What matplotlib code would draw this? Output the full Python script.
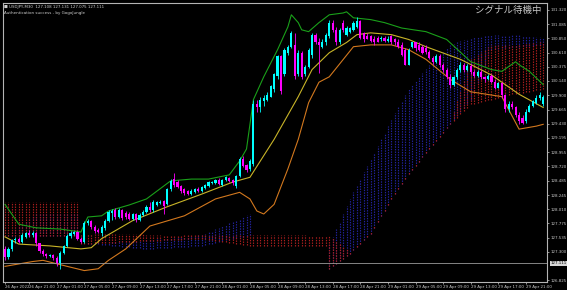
import matplotlib
matplotlib.use("Agg")
import matplotlib.pyplot as plt
import numpy as np

# ---------------- data ----------------
opens = [127.35,127.22,127.35,127.49,127.52,127.47,127.55,127.62,127.58,127.62,
         127.44,127.32,127.27,127.24,127.25,127.20,127.12,127.29,127.40,127.57,
         127.60,127.63,127.52,127.47,127.78,127.82,127.71,127.67,127.62,127.70,
         127.82,127.94,127.99,127.88,127.99,127.94,127.93,127.85,127.93,127.83,
         127.91,127.96,128.04,127.99,128.08,128.11,128.14,128.09,128.34,128.51,
         128.46,128.39,128.34,128.31,128.26,128.29,128.34,128.31,128.36,128.39,
         128.44,128.44,128.49,128.41,128.49,128.53,128.49,128.39,128.56,128.84,
         128.74,128.68,128.76,129.75,129.70,129.80,129.83,129.88,130.00,130.22,
         130.55,130.25,130.61,130.71,130.74,130.25,130.61,130.25,130.38,130.58,
         130.91,130.79,130.71,130.78,130.88,131.11,130.99,130.78,131.11,130.91,
         130.96,130.99,131.04,131.13,130.93,130.89,130.88,130.84,130.86,130.83,
         130.86,130.81,130.88,130.83,130.79,130.74,130.66,130.41,130.71,130.78,
         130.74,130.71,130.69,130.63,130.53,130.46,130.56,130.41,130.33,130.20,
         130.08,130.20,130.33,130.41,130.33,130.39,130.29,130.23,130.29,130.20,
         130.17,130.23,130.13,130.03,130.10,129.90,129.67,129.76,129.70,129.58,
         129.53,129.47,129.63,129.72,129.78,129.85,129.76]
highs = [127.40,127.38,127.52,127.55,127.55,127.62,127.63,127.67,127.65,127.63,
         127.45,127.35,127.29,127.27,127.27,127.24,127.32,127.42,127.60,127.65,
         127.65,127.65,127.55,127.82,127.85,127.83,127.75,127.70,127.75,127.85,
         127.99,128.01,128.03,128.03,128.01,127.98,127.96,127.94,127.94,127.94,
         127.99,128.08,128.13,128.16,128.14,128.16,128.16,128.36,128.51,128.61,
         128.49,128.41,128.36,128.33,128.34,128.36,128.38,128.39,128.43,128.48,
         128.48,128.51,128.53,128.51,128.56,128.54,128.51,128.58,128.87,128.89,
         128.76,128.84,129.83,129.83,129.87,129.90,129.95,130.08,130.28,130.58,
         130.58,130.69,130.74,130.97,130.94,130.66,130.64,130.41,130.69,130.94,
         130.94,130.86,130.83,130.94,131.16,131.16,131.04,131.02,131.16,131.06,
         131.04,131.14,131.21,131.16,130.96,130.93,130.91,130.88,130.89,130.88,
         130.89,130.88,130.91,130.86,130.83,130.78,130.69,130.68,130.79,130.79,
         130.78,130.74,130.73,130.66,130.56,130.59,130.59,130.44,130.36,130.25,
         130.23,130.36,130.46,130.44,130.43,130.43,130.33,130.33,130.33,130.23,
         130.26,130.26,130.17,130.13,130.13,129.93,129.80,129.80,129.73,129.62,
         129.57,129.67,129.76,129.83,129.90,129.95,129.90]
lows = [127.16,127.19,127.32,127.44,127.44,127.44,127.53,127.55,127.55,127.40,
        127.29,127.24,127.20,127.22,127.16,127.06,127.02,127.27,127.38,127.53,
        127.58,127.49,127.44,127.45,127.75,127.68,127.62,127.62,127.57,127.67,
        127.80,127.83,127.85,127.86,127.83,127.85,127.83,127.83,127.80,127.82,
        127.89,127.94,127.96,127.96,128.06,128.09,127.93,128.08,128.31,128.38,
        128.36,128.28,128.24,128.24,128.24,128.28,128.29,128.29,128.34,128.38,
        128.43,128.43,128.41,128.39,128.48,128.46,128.41,128.36,128.54,128.71,
        128.63,128.64,128.73,129.62,129.63,129.73,129.80,129.87,129.95,130.18,
        129.93,130.22,130.58,130.69,130.17,130.22,130.17,130.22,130.36,130.53,
        130.76,130.28,130.68,130.74,130.86,130.96,130.74,130.76,130.96,130.89,
        130.94,130.97,131.02,130.83,130.79,130.83,130.78,130.74,130.78,130.81,
        130.78,130.79,130.76,130.74,130.69,130.56,130.40,130.40,130.69,130.64,
        130.64,130.59,130.59,130.50,130.43,130.44,130.38,130.29,130.17,130.03,
        130.05,130.17,130.29,130.29,130.31,130.26,130.20,130.21,130.17,130.13,
        130.15,130.10,130.00,130.02,129.86,129.63,129.63,129.67,129.55,129.42,
        129.42,129.44,129.62,129.70,129.76,129.83,129.73]
closes = [127.22,127.35,127.49,127.52,127.47,127.58,127.62,127.58,127.62,127.44,
          127.32,127.27,127.24,127.25,127.20,127.12,127.29,127.40,127.57,127.62,
          127.63,127.52,127.47,127.78,127.82,127.71,127.65,127.63,127.71,127.82,
          127.96,127.98,127.88,127.99,127.86,127.88,127.85,127.93,127.83,127.91,
          127.96,128.04,127.99,128.13,128.13,128.13,128.06,128.34,128.48,128.41,
          128.38,128.31,128.28,128.26,128.31,128.34,128.31,128.38,128.41,128.46,
          128.46,128.49,128.43,128.49,128.54,128.48,128.44,128.56,128.84,128.73,
          128.66,128.81,129.75,129.70,129.82,129.85,129.90,130.05,130.25,130.55,
          129.97,130.66,130.71,130.94,130.22,130.61,130.20,130.38,130.66,130.91,
          130.79,130.74,130.79,130.91,131.11,130.99,130.78,130.99,130.99,131.02,
          131.02,131.11,131.14,130.86,130.83,130.84,130.81,130.78,130.79,130.86,
          130.81,130.84,130.79,130.78,130.71,130.58,130.41,130.66,130.78,130.68,
          130.66,130.61,130.63,130.53,130.46,130.56,130.41,130.33,130.20,130.08,
          130.20,130.33,130.41,130.33,130.39,130.29,130.23,130.29,130.20,130.17,
          130.23,130.13,130.03,130.10,129.90,129.67,129.76,129.70,129.58,129.47,
          129.45,129.63,129.73,129.80,129.86,129.90,129.88]

upper_idx = [0,4,9,16,22,24,28,30,36,41,48,54,59,65,68,70,72,75,79,82,83,85,86,88,91,94,
             98,99,101,106,110,115,122,128,135,141,144,148,149,152,156]
upper_val = [128.09,127.76,127.70,127.68,127.63,127.88,127.90,127.98,128.08,128.18,128.48,
             128.51,128.51,128.58,128.81,129.01,129.83,130.21,130.66,131.04,131.24,131.11,
             130.99,130.96,131.11,131.24,131.27,131.29,131.19,131.16,131.11,131.02,130.96,
             130.83,130.46,130.33,130.30,130.46,130.41,130.30,130.08]
mid_idx = [0,4,13,22,25,28,37,47,57,66,71,78,85,89,94,99,102,106,112,117,122,132,141,149,156]
mid_val = [127.55,127.43,127.40,127.35,127.37,127.52,127.82,128.05,128.26,128.46,128.54,
           129.17,129.88,130.33,130.61,130.78,130.91,130.94,130.91,130.83,130.71,130.50,
           130.24,129.92,129.70]
lower_idx = [0,8,11,18,23,27,30,35,42,52,61,68,71,73,75,78,82,85,88,91,94,101,106,112,
             117,122,129,135,144,149,154,156]
lower_val = [127.06,127.14,127.16,127.06,126.99,127.02,127.16,127.35,127.73,127.90,128.18,
             128.29,128.18,127.98,127.93,128.09,128.68,129.17,129.78,130.12,130.21,130.71,
             130.74,130.74,130.66,130.50,130.17,129.96,129.88,129.34,129.39,129.42]

# cloud edges (blue cloud and red cloud)
blue_idx = [0,9,21,22,41,57,71,72,93,94,100,106,112,117,123,129,135,141,147,156]
blue_top = [127.57,127.93,127.93,127.45,127.49,127.58,127.93,127.58,127.58,127.43,128.18,
            128.84,129.50,130.00,130.41,130.74,130.86,130.91,130.91,130.86]
blue_bot = [127.57,127.57,127.57,127.45,127.35,127.40,127.58,127.58,127.58,127.02,127.27,
            127.60,128.18,128.59,129.01,129.42,129.83,130.66,130.70,130.74]
red_idx = [0,21,22,57,71,93,94,100,106,112,117,123,129,135,141,147,156]
red_top = [128.13,128.13,127.60,127.58,127.58,127.57,127.57,127.30,127.63,128.21,128.62,
           129.04,129.45,130.50,130.74,130.74,130.79]
red_bot = [127.57,127.57,127.43,127.52,127.40,127.40,127.02,127.27,127.60,128.18,128.59,
           129.01,129.42,129.75,129.83,129.92,130.00]

time_idx = [0,7,15,23,31,39,47,55,63,71,79,87,95,103,111,119,127,135,143,151]
time_labels = ["26 Apr 2022","26 Apr 21:00","27 Apr 01:00","27 Apr 05:00","27 Apr 09:00",
               "27 Apr 13:00","27 Apr 17:00","27 Apr 21:00","28 Apr 01:00","28 Apr 05:00",
               "28 Apr 09:00","28 Apr 13:00","28 Apr 17:00","28 Apr 21:00","29 Apr 01:00",
               "29 Apr 05:00","29 Apr 09:00","29 Apr 13:00","29 Apr 17:00","29 Apr 21:00"]
price_ticks = [131.320,131.085,130.850,130.610,130.375,130.140,129.900,129.665,129.430,
               129.195,128.955,128.720,128.485,128.245,128.010,127.775,127.535,127.300,126.825]
last_price = 127.111
title_text = "USDJPY,M30  127.108 127.131 127.075 127.111"
auth_text = "Authentication success - by GogoJungle"
signal_text = "シグナル待機中"

# ---------------- figure ----------------
W, H = 567, 290
YMIN, YMAX = 126.80, 131.436
fig = plt.figure(figsize=(W/100, H/100), dpi=100, facecolor="black")
ax = fig.add_axes([3/W, (H-282)/H, 544/W, 279/H], facecolor="black")
n = len(closes)
x = np.arange(n)

# clouds drawn as dotted histograms
def dotted_cloud(idx, top, bot, color):
    t = np.interp(x, idx, top)
    b = np.interp(x, idx, bot)
    m = np.abs(t - b) > 0.005
    ax.vlines(x[m], np.minimum(t, b)[m], np.maximum(t, b)[m], colors=color,
              linestyles=(0, (1.2, 1.0)), linewidth=0.85, zorder=1)

dotted_cloud(blue_idx, blue_top, blue_bot, "#22229a")
dotted_cloud(red_idx, red_top, red_bot, "#a81e1e")

# bands
ax.plot(upper_idx, upper_val, color="#1aa01a", lw=0.8, zorder=2)
ax.plot(mid_idx, mid_val, color="#c8b428", lw=0.8, zorder=2)
ax.plot(lower_idx, lower_val, color="#d2781e", lw=0.8, zorder=2)

# current price line
ax.axhline(last_price, color="#9a9a9a", lw=0.6, zorder=2)

# candles
o = np.array(opens); c = np.array(closes); h = np.array(highs); l = np.array(lows)
cols = np.where(c >= o, "#00ffff", "#ff00ff")
ax.vlines(x, l, h, colors=cols, lw=0.6, zorder=3)
bottoms = np.minimum(o, c)
heights = np.maximum(np.abs(c - o), 0.012)
ax.bar(x, heights, bottom=bottoms, width=0.62, color=cols, linewidth=0, zorder=4)

ax.set_xlim(-0.58, 157.1)
ax.set_ylim(YMIN, YMAX)

# axes styling
for s in ax.spines.values():
    s.set_color("#b4b4b4"); s.set_linewidth(0.8)
ax.yaxis.tick_right()
ax.set_yticks(price_ticks)
ax.set_yticklabels([f"{v:.3f}" for v in price_ticks])
ax.set_xticks(time_idx)
ax.set_xticklabels(time_labels, ha="left")
ax.tick_params(axis="both", colors="#c8c8c8", labelsize=2.9, length=1.5, width=0.5, pad=0.8)

# last price box
ax.text(1.006, (last_price - YMIN) / (YMAX - YMIN), f"{last_price:.3f}",
        transform=ax.transAxes, fontsize=2.9, color="black", va="center", ha="left",
        bbox=dict(boxstyle="square,pad=0.15", fc="#d8d8d8", ec="none"), zorder=10, clip_on=False)

# texts
fig.text(4/W, 1 - 7/H, "■ " + title_text, fontsize=2.9, color="#d0d0d0", va="center", ha="left")
fig.text(4/W, 1 - 13/H, auth_text, fontsize=2.9, color="#d0d0d0", va="center", ha="left")
fig.text(541/W, 1 - 10/H, signal_text, fontsize=6.8, color="#c8c8c8", va="center", ha="right",
         family=["Noto Sans CJK JP", "DejaVu Sans"])

fig.savefig("out.png", dpi=100, facecolor="black")
